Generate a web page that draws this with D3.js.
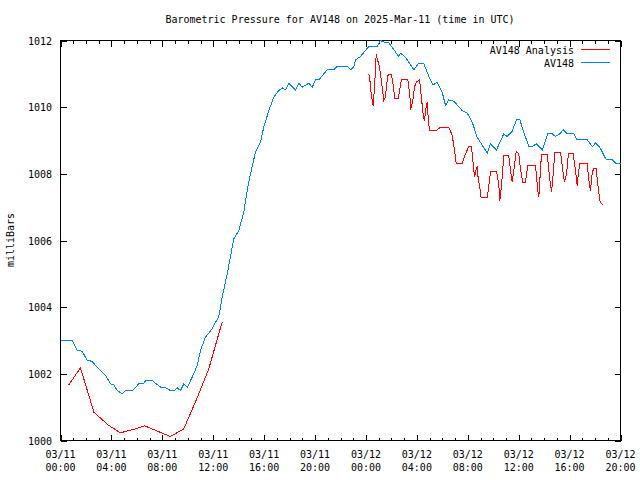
<!DOCTYPE html>
<html><head><meta charset="utf-8">
<script src="https://cdn.jsdelivr.net/npm/d3@7"></script>
<style>
body{margin:0;background:#fff;}
text{font-family:"DejaVu Sans Mono","Liberation Mono",monospace;font-size:10px;fill:#000;}
</style></head>
<body><svg id="c" width="640" height="480"></svg>
<script>
// Hours since 2025-03-11 00:00 UTC
const blueHours = [0,0.92,1.31,1.70,2.10,2.44,3.54,3.93,4.19,4.45,4.85,5.11,5.68,6.15,6.54,6.68,7.20,7.86,8.25,8.64,8.98,9.17,9.43,9.69,9.96,10.35,10.74,11.0,11.39,11.92,12.04,12.44,12.70,13.10,13.62,14.01,14.40,14.67,14.93,15.32,15.71,15.97,16.37,16.76,17.15,17.42,17.68,17.94,18.46,18.72,18.99,19.51,19.78,20.04,20.30,20.95,21.47,21.74,22.53,22.79,23.05,23.18,23.57,24.22,24.88,25.14,25.54,25.80,26.58,26.71,27.11,27.76,28.15,28.55,29.07,29.28,29.60,29.99,30.25,30.51,30.90,31.56,31.96,32.35,32.74,33.53,33.79,34.26,34.83,35.10,35.49,35.83,36.09,36.40,36.80,37.06,37.40,37.85,38.29,38.63,38.89,39.23,39.50,39.81,40.33,40.60,41.38,41.78,42.04,42.37,42.88,43.35,43.61,44.0];
const bluePressure = [1003.0,1003.0,1002.7,1002.68,1002.4,1002.38,1001.95,1001.7,1001.68,1001.5,1001.4,1001.5,1001.5,1001.7,1001.7,1001.8,1001.8,1001.6,1001.58,1001.5,1001.5,1001.58,1001.5,1001.7,1001.6,1001.9,1002.25,1002.7,1003.1,1003.35,1003.45,1003.72,1004.3,1005.0,1006.05,1006.3,1006.85,1007.5,1008.0,1008.65,1008.95,1009.4,1009.9,1010.3,1010.5,1010.58,1010.52,1010.72,1010.52,1010.72,1010.6,1010.72,1010.6,1010.82,1010.82,1011.12,1011.12,1011.22,1011.22,1011.12,1011.22,1011.42,1011.52,1011.82,1011.82,1012.0,1011.93,1011.93,1011.52,1011.62,1011.5,1011.12,1011.32,1011.3,1010.8,1010.67,1010.74,1010.45,1010.05,1010.22,1010.18,1009.9,1009.82,1009.55,1009.1,1008.62,1008.9,1008.72,1009.2,1009.12,1009.28,1009.62,1009.62,1009.25,1008.82,1008.82,1008.9,1008.72,1009.2,1009.2,1009.12,1009.2,1009.32,1009.2,1009.2,1009.02,1009.02,1008.82,1008.92,1008.8,1008.42,1008.42,1008.32,1008.32];

const analysisHours1 = [0.65,1.57,2.62,3.80,4.71,5.89,6.62,7.99,8.64,9.69,10.87,11.65,12.70];
const analysisPressure1 = [1001.67,1002.18,1000.85,1000.45,1000.23,1000.35,1000.44,1000.22,1000.12,1000.35,1001.4,1002.15,1003.55];

const analysisHours2 = [24.22,24.30,24.41,24.49,24.57,24.62,24.70,24.81,24.88,25.01,25.14,25.27,25.40,25.54,25.61,25.74,26.01,26.14,26.27,26.53,26.71,26.79,27.29,27.44,27.52,27.68,27.81,27.95,28.21,28.34,28.50,28.60,28.70,28.81,28.89,28.99,29.54,29.86,30.51,30.78,30.96,31.09,31.56,31.82,32.08,32.29,32.43,32.53,32.66,32.74,32.82,32.94,33.05,33.53,33.79,34.26,34.44,34.52,34.65,34.83,35.22,35.36,35.49,35.62,35.80,36.01,36.14,36.32,36.53,36.72,37.32,37.50,37.58,37.79,38.24,38.44,38.58,38.68,38.84,39.29,39.50,39.60,39.76,39.91,40.28,40.46,40.60,40.64,40.80,41.38,41.56,41.64,41.78,41.90,42.09,42.27,42.40,42.61];
const analysisPressure2 = [1011.0,1010.85,1010.4,1010.2,1010.05,1010.3,1010.8,1011.6,1011.45,1011.3,1011.0,1010.6,1010.2,1010.3,1010.65,1010.97,1010.97,1010.65,1010.25,1010.25,1010.65,1010.82,1010.82,1010.4,1009.93,1010.2,1010.6,1010.75,1010.82,1010.35,1009.75,1009.6,1009.95,1010.15,1009.7,1009.3,1009.3,1009.4,1009.4,1009.15,1008.7,1008.3,1008.3,1008.6,1008.82,1008.82,1008.3,1007.9,1008.15,1008.2,1007.85,1007.6,1007.28,1007.28,1008.08,1008.08,1007.65,1007.2,1007.65,1008.55,1008.55,1008.1,1007.75,1008.1,1008.67,1008.6,1008.15,1007.75,1007.75,1008.25,1008.25,1007.5,1007.3,1008.58,1008.58,1007.85,1007.45,1007.85,1008.65,1008.65,1008.0,1007.75,1008.0,1008.6,1008.6,1008.1,1007.65,1007.85,1008.3,1008.3,1007.65,1007.5,1008.05,1008.15,1008.15,1007.5,1007.15,1007.07];

const majorTickHours = [0,4,8,12,16,20,24,28,32,36,40,44];
const tickDates = ["03/11","03/11","03/11","03/11","03/11","03/11","03/12","03/12","03/12","03/12","03/12","03/12"];
const tickTimes = ["00:00","04:00","08:00","12:00","16:00","20:00","00:00","04:00","08:00","12:00","16:00","20:00"];
const yTicks = [1000,1002,1004,1006,1008,1010,1012];

const svg = d3.select("#c");
const L=60.5, R=620.5, T=40.5, B=440.5;
const x = d3.scaleLinear().domain([0,44]).range([L,R]);
const y = d3.scaleLinear().domain([1000,1012]).range([B,T]);

// frame
svg.append("rect").attr("x",L).attr("y",T).attr("width",R-L).attr("height",B-T)
  .attr("fill","none").attr("stroke","#000").attr("shape-rendering","crispEdges");

function styleAxis(g){ g.select(".domain").remove(); g.selectAll("line").attr("stroke","#000").attr("shape-rendering","crispEdges"); g.selectAll("text").remove(); }

// minor x ticks
const minor = d3.range(0,45);
svg.append("g").attr("transform",`translate(0,${B})`).call(d3.axisBottom(x).tickValues(minor).tickSize(-3)).call(styleAxis);
svg.append("g").attr("transform",`translate(0,${T})`).call(d3.axisTop(x).tickValues(minor).tickSize(-3)).call(styleAxis);
// major x ticks
svg.append("g").attr("transform",`translate(0,${B})`).call(d3.axisBottom(x).tickValues(majorTickHours).tickSize(-6)).call(styleAxis);
svg.append("g").attr("transform",`translate(0,${T})`).call(d3.axisTop(x).tickValues(majorTickHours).tickSize(-6)).call(styleAxis);
// y ticks
svg.append("g").attr("transform",`translate(${L},0)`).call(d3.axisLeft(y).tickValues(yTicks).tickSize(-6)).call(styleAxis);
svg.append("g").attr("transform",`translate(${R},0)`).call(d3.axisRight(y).tickValues(yTicks).tickSize(-6)).call(styleAxis);

// x labels
majorTickHours.forEach((h,i)=>{
  const t = svg.append("text").attr("x",x(h)).attr("text-anchor","middle");
  t.append("tspan").attr("x",x(h)).attr("y",458).text(tickDates[i]);
  t.append("tspan").attr("x",x(h)).attr("y",471).text(tickTimes[i]);
});
// y labels
yTicks.forEach(v=>{
  svg.append("text").attr("x",52).attr("y",y(v)+4).attr("text-anchor","end").text(v);
});

// title and axis label
svg.append("text").attr("x",340).attr("y",23).attr("text-anchor","middle").text("Barometric Pressure for AV148 on 2025-Mar-11 (time in UTC)");
svg.append("text").attr("transform","translate(14,240) rotate(-90)").attr("text-anchor","middle").text("milliBars");

const line = d3.line().x(d=>x(d[0])).y(d=>y(d[1]));
const blue = blueHours.map((h,i)=>[h,bluePressure[i]]);
const a1 = analysisHours1.map((h,i)=>[h,analysisPressure1[i]]);
const a2 = analysisHours2.map((h,i)=>[h,analysisPressure2[i]]);

svg.append("path").attr("d",line(blue)).attr("fill","none").attr("stroke","#0080ff").attr("stroke-width",1).attr("shape-rendering","crispEdges");
[a1,a2].forEach(seg=>svg.append("path").attr("d",line(seg)).attr("fill","none").attr("stroke","#ff0000").attr("stroke-width",1).attr("shape-rendering","crispEdges"));

// legend
const legend = [["AV148 Analysis","#ff0000"],["AV148","#0080ff"]];
legend.forEach((d,i)=>{
  const yy = 49.5 + i*13;
  svg.append("text").attr("x",574).attr("y",yy+4).attr("text-anchor","end").text(d[0]);
  svg.append("line").attr("x1",581).attr("x2",610).attr("y1",yy).attr("y2",yy).attr("stroke",d[1]).attr("shape-rendering","crispEdges");
});
</script></body></html>
